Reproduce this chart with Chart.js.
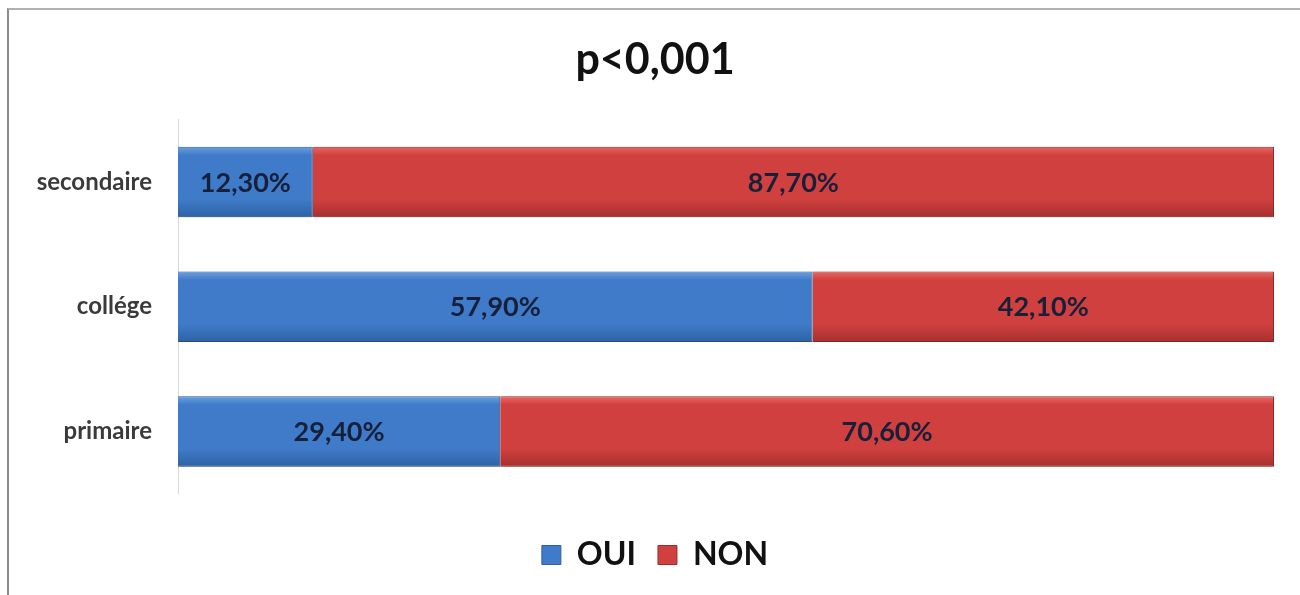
<!DOCTYPE html>
<html>
<head>
<meta charset="utf-8">
<script src="https://cdn.jsdelivr.net/npm/chart.js@4"></script>
<style>
  html, body { margin: 0; padding: 0; background: #fff; }
  #wrap { position: relative; width: 1300px; height: 595px; }
  #frame { position: absolute; left: 7px; top: 8px; right: 0; bottom: 0;
           border-left: 2px solid #8a8a8a; border-top: 2px solid #b0b0b0; }
  canvas { position: absolute; left: 0; top: 0; }
</style>
</head>
<body>
<div id="wrap">
  <div id="frame"></div>
  <canvas id="chart" width="1300" height="595"></canvas>
</div>
<script>
const categories = ['secondaire', 'collége', 'primaire'];
const ouiValues = [12.3, 57.9, 29.4];
const nonValues = [87.7, 42.1, 70.6];
const titleText = 'p<0,001';

const FONT = 'Lato, "Open Sans", sans-serif';
const BLUE = '#3f7bc8';
const RED = '#cf403e';

// french style percent: 12,30%
function fmt(v) {
    return v.toFixed(2).replace('.', ',') + '%';
}

// excel-like shading: lighter top edge, darker bottom
function shade(light, mid, dark) {
    return (context) => {
        const chart = context.chart;
        const y = chart.scales.y;
        if (!chart.chartArea || !y || context.dataIndex === undefined) return mid;
        const c = y.getPixelForValue(context.dataIndex);
        const h = 35;
        const g = chart.ctx.createLinearGradient(0, c - h, 0, c + h);
        g.addColorStop(0, light);
        g.addColorStop(0.12, mid);
        g.addColorStop(0.75, mid);
        g.addColorStop(1, dark);
        return g;
    };
}

// values written in the middle of each bar segment
const barLabels = {
    id: 'barLabels',
    afterDatasetsDraw(chart) {
        const ctx = chart.ctx;
        ctx.save();
        ctx.font = 'bold 27px ' + FONT;
        ctx.fillStyle = '#17203a';
        ctx.textAlign = 'center';
        ctx.textBaseline = 'middle';
        chart.data.datasets.forEach((ds, i) => {
            chart.getDatasetMeta(i).data.forEach((bar, j) => {
                const p = bar.getCenterPoint();
                ctx.fillText(fmt(ds.data[j]), p.x, p.y + 1);
            });
        });
        ctx.restore();
    }
};

// soft drop shadow under the bars
const barShadow = {
    id: 'barShadow',
    beforeDatasetsDraw(chart) {
        const ctx = chart.ctx;
        ctx.save();
        ctx.shadowColor = 'rgba(0,0,0,0.25)';
        ctx.shadowBlur = 4;
        ctx.shadowOffsetY = 2;
    },
    afterDatasetsDraw(chart) {
        chart.ctx.restore();
    }
};

const legendColors = [
    { fill: BLUE, stroke: '#2f5f9e' },
    { fill: RED, stroke: '#9e2e2c' }
];

new Chart(document.getElementById('chart'), {
    type: 'bar',
    data: {
        labels: categories,
        datasets: [
            { label: 'OUI', data: ouiValues, backgroundColor: shade('#6a9fe0', BLUE, '#2e62a6'), borderColor: '#2f5f9e', borderWidth: 1 },
            { label: 'NON', data: nonValues, backgroundColor: shade('#ea6664', RED, '#a7302e'), borderColor: '#9e2e2c', borderWidth: 1 }
        ]
    },
    options: {
        indexAxis: 'y',
        responsive: false,
        animation: false,
        layout: { padding: { left: 36, right: 26, top: 0, bottom: 14 } },
        datasets: { bar: { categoryPercentage: 1, barPercentage: 0.565 } },
        scales: {
            x: { stacked: true, min: 0, max: 100, display: false },
            y: {
                stacked: true,
                grid: { display: false },
                border: { color: '#d9d9d9', width: 1 },
                ticks: { color: '#3a3a3a', padding: 18, font: { family: FONT, size: 24, weight: 'bold' } },
                afterFit(scale) { scale.width = 142; }
            }
        },
        plugins: {
            title: {
                display: true,
                text: titleText,
                color: '#111',
                font: { family: FONT, size: 43, weight: 'bold' },
                padding: { top: 34, bottom: 34 }
            },
            legend: {
                position: 'bottom',
                title: { display: true, text: '', font: { size: 1 }, padding: { top: 22, bottom: 0 } },
                labels: {
                    color: '#111',
                    boxWidth: 19,
                    boxHeight: 19,
                    padding: 22,
                    font: { family: FONT, size: 32, weight: 'bold' },
                    generateLabels(chart) {
                        return chart.data.datasets.map((ds, i) => ({
                            text: ds.label,
                            fillStyle: legendColors[i].fill,
                            strokeStyle: legendColors[i].stroke,
                            lineWidth: 1,
                            fontColor: '#111',
                            datasetIndex: i
                        }));
                    }
                }
            },
            tooltip: { enabled: false }
        }
    },
    plugins: [barShadow, barLabels]
});
</script>
</body>
</html>
